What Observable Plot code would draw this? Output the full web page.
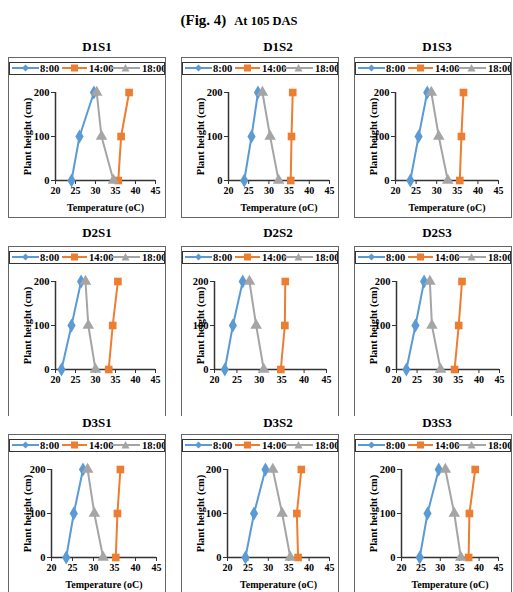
<!DOCTYPE html>
<html><head><meta charset="utf-8">
<script src="https://cdn.jsdelivr.net/npm/d3@7"></script>
<script src="https://cdn.jsdelivr.net/npm/@observablehq/plot@0.6"></script>
<style>
body{margin:0;background:#fff;font-family:"Liberation Serif","Times New Roman",serif;}
#root{position:relative;width:513px;height:592px;overflow:hidden;}
.t{position:absolute;font-weight:bold;white-space:nowrap;transform:translate(-50%,-50%);color:#000;}
.panel{position:absolute;border:1px solid #666;box-sizing:border-box;background:#fff;}
.legend{position:absolute;left:0;top:4px;right:0;height:13px;border:1.5px solid #333;box-sizing:border-box;overflow:hidden;}
.plotwrap{position:absolute;left:0;top:19px;}
</style></head>
<body><div id="root"></div>
<script>
const panels = ["D1S1","D1S2","D1S3","D2S1","D2S2","D2S3","D3S1","D3S2","D3S3"];
const heights = [0, 100, 200];
const times = ["8:00","14:00","18:00"];
const colors = ["#5B9BD5","#ED7D31","#A5A5A5"];
const symbols = ["diamond","square","triangle"];
const xTicks = [20,25,30,35,40,45];
const yTicks = [0,100,200];
// temperature at heights 0,100,200 cm, per panel
const temp800 = [[24.0,26.0,29.6],[23.9,25.7,27.3],[23.6,25.6,27.7],[21.5,24.0,26.4],[22.3,24.1,26.3],[22.4,24.6,26.7],[23.5,25.3,27.5],[24.4,26.5,29.3],[24.7,26.7,29.6]];
const temp1400 = [[35.7,36.4,38.4],[35.4,35.6,35.9],[35.6,36.0,36.5],[33.3,34.3,35.6],[34.8,35.7,35.8],[34.1,35.1,35.9],[35.3,35.7,36.4],[37.3,37.0,38.1],[37.3,37.5,39.0]];
const temp1800 = [[34.5,31.5,30.3],[32.4,30.3,28.4],[32.7,30.5,28.7],[30.0,28.2,27.5],[31.0,29.3,27.8],[30.7,28.6,28.1],[32.3,30.2,28.6],[35.4,33.4,31.1],[35.3,33.6,31.3]];
const xLabel = "Temperature (oC)";
const yLabel = "Plant height (cm)";

const root = document.getElementById("root");
const frameX = [8,181,354];
const frameTop = [57,246,434];
const frameH = [161,170,170];
const titleX = [97,278,437];
const titleY = [47,233,423];
const axisLeft = [46,46,40,46,32,41,42,45,46];
const axisRight = [146,147,143,146,144,144,147,147,143];
const showXLabel = [true,true,true,false,false,false,true,true,true];

function add(html, cls, style){ const d=document.createElement("div"); d.className=cls; d.innerHTML=html; Object.assign(d.style, style); root.appendChild(d); return d; }

add('<span style="font-size:15px">(Fig. 4)</span>&nbsp; <span style="font-size:12.5px">At 105 DAS</span>', "t", {left:"239px", top:"20px"});

function legendSVG(){
  const ns="http://www.w3.org/2000/svg";
  const s=document.createElementNS(ns,"svg");
  s.setAttribute("width","200"); s.setAttribute("height","10");
  s.style.position="absolute"; s.style.left="0"; s.style.top="0";
  const items=[{x0:2,x1:29,tx:30},{x0:52,x1:77,tx:79},{x0:101,x1:130,tx:132}];
  items.forEach((it,k)=>{
    const l=document.createElementNS(ns,"line");
    l.setAttribute("x1",it.x0); l.setAttribute("x2",it.x1); l.setAttribute("y1",5); l.setAttribute("y2",5);
    l.setAttribute("stroke",colors[k]); l.setAttribute("stroke-width",2); s.appendChild(l);
    const cx=(it.x0+it.x1)/2;
    let m;
    if(k===0){ m=document.createElementNS(ns,"path"); m.setAttribute("d",`M${cx},1.5L${cx+3.5},5L${cx},8.5L${cx-3.5},5Z`); }
    else if(k===1){ m=document.createElementNS(ns,"rect"); m.setAttribute("x",cx-3.5); m.setAttribute("y",1.5); m.setAttribute("width",7); m.setAttribute("height",7); }
    else { m=document.createElementNS(ns,"path"); m.setAttribute("d",`M${cx},1L${cx+4},8.5L${cx-4},8.5Z`); }
    m.setAttribute("fill",colors[k]); s.appendChild(m);
    const t=document.createElementNS(ns,"text");
    t.setAttribute("x",it.tx); t.setAttribute("y",8.8); t.setAttribute("font-size","10.5"); t.setAttribute("font-weight","bold");
    t.setAttribute("font-family",'"Liberation Serif",serif'); t.textContent=times[k]; s.appendChild(t);
  });
  return s;
}

panels.forEach((name,i)=>{
  const r=Math.floor(i/3), c=i%3;
  add(name, "t", {left:titleX[c]+"px", top:titleY[r]+"px", fontSize:"13px"});
  const p=document.createElement("div"); p.className="panel";
  Object.assign(p.style,{left:frameX[c]+"px", top:frameTop[r]+"px", width:"158px", height:frameH[r]+"px"});
  if(r===1) p.style.borderBottom="none";
  root.appendChild(p);
  const lg=document.createElement("div"); lg.className="legend"; lg.appendChild(legendSVG()); p.appendChild(lg);
  const rows=[];
  [temp800,temp1400,temp1800].forEach((arr,k)=>{ heights.forEach((h,j)=>rows.push({time:times[k], temp:arr[i][j], h})); });
  const W=156;
  const chart = Plot.plot({
    width:W, height:141, marginTop:15, marginBottom:38, marginLeft:axisLeft[i], marginRight:W-axisRight[i],
    style:{fontFamily:'"Liberation Serif",serif', fontSize:"10px", fontWeight:"bold", color:"#000", background:"transparent", overflow:"visible"},
    x:{domain:[20,45]},
    y:{domain:[0,200]},
    color:{domain:times, range:colors},
    symbol:{domain:times, range:symbols},
    marks:[
      Plot.axisX({ticks:xTicks, tickSize:4, tickPadding:2, stroke:"#333", label: showXLabel[i] ? xLabel : null, labelAnchor:"center", labelArrow:"none", labelOffset:30}),
      Plot.axisY({ticks:yTicks, tickSize:4, tickPadding:2, stroke:"#333", label:yLabel, labelAnchor:"center", labelArrow:"none", labelOffset:axisLeft[i]-14, fontSize:10.5}),
      Plot.ruleY([0],{stroke:"#333", strokeWidth:1.5}),
      Plot.ruleX([20],{stroke:"#333", strokeWidth:1.5}),
      Plot.line(rows,{x:"temp", y:"h", z:"time", stroke:"time", strokeWidth:2}),
      Plot.dot(rows,{x:"temp", y:"h", fill:"time", symbol:"time", r:4.3})
    ]
  });
  const w=document.createElement("div"); w.className="plotwrap"; w.appendChild(chart); p.appendChild(w);
});
</script></body></html>
